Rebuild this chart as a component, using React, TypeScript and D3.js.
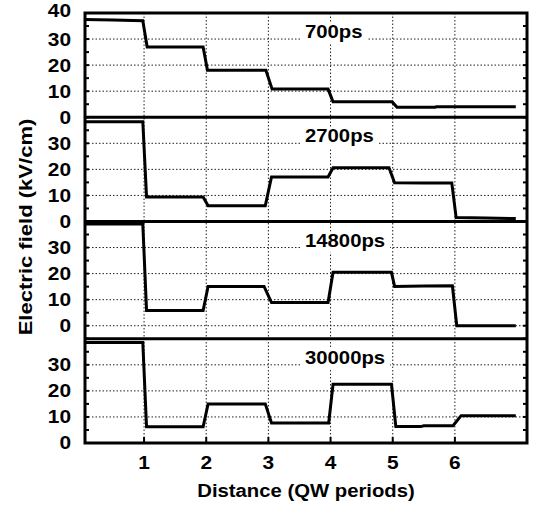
import React from "react";
import * as d3 from "d3";

// ---- data ----
const periodTicks = [1, 2, 3, 4, 5, 6];
const panelLabels = ["700ps", "2700ps", "14800ps", "30000ps"];

const dist700 = [0.05, 0.5, 0.98, 1.05, 1.95, 2.02, 2.96, 3.06, 3.96, 4.04, 4.99, 5.07, 5.68, 5.7, 6.98];
const field700 = [37.5, 37.3, 37.0, 27.0, 27.0, 18.0, 18.0, 10.8, 10.8, 5.9, 5.9, 3.8, 3.8, 4.0, 4.0];

const dist2700 = [0.05, 0.98, 1.04, 1.95, 2.03, 2.95, 3.05, 3.96, 4.04, 4.94, 5.03, 5.5, 5.95, 6.02, 6.5, 6.98];
const field2700 = [38.3, 38.3, 9.4, 9.4, 6.0, 6.0, 17.1, 17.1, 20.6, 20.6, 14.9, 14.8, 14.8, 1.5, 1.3, 1.1];

const dist14800 = [0.05, 0.98, 1.04, 1.95, 2.03, 2.93, 3.05, 3.96, 4.04, 4.98, 5.03, 5.5, 5.96, 6.03, 6.98];
const field14800 = [39.0, 39.0, 5.8, 5.8, 15.1, 15.1, 8.9, 8.9, 20.5, 20.5, 15.1, 15.2, 15.3, 0.0, 0.0];

const dist30000 = [0.05, 0.98, 1.04, 1.95, 2.03, 2.95, 3.05, 3.97, 4.04, 4.98, 5.05, 5.45, 5.5, 5.97, 6.1, 6.98];
const field30000 = [38.6, 38.6, 6.2, 6.2, 15.0, 15.0, 7.7, 7.7, 22.5, 22.5, 6.3, 6.3, 6.6, 6.6, 10.5, 10.5];

const panelDists = [dist700, dist2700, dist14800, dist30000];
const panelFields = [field700, field2700, field14800, field30000];
const panelDomains: [number, number][] = [[0, 40], [0, 40], [-5, 40], [0, 40]];
const panelTickLabels = [[0, 10, 20, 30, 40], [0, 10, 20, 30], [0, 10, 20, 30], [0, 10, 20, 30]];
const panelGrid = [[10, 20, 30], [10, 20, 30], [0, 10, 20, 30], [10, 20, 30]];

// ---- layout ----
const W = 534, H = 508;
const plotLeft = 85, plotRight = 527, plotTop = 13, plotBottom = 443;
const FONT = "'Liberation Sans', Arial, Helvetica, sans-serif";
const SX = 1.16;

const charW: Record<string, number> = { p: 0.611, s: 0.556 };
function textWidth(s: string, size: number) {
  let w = 0;
  for (const c of s) w += charW[c] ?? 0.556;
  return w * size * SX;
}

function T(props: {
  x: number; y: number; size: number; anchor?: string; rotate?: number; dy?: string; children: React.ReactNode;
}) {
  const { x, y, size, anchor = "start", rotate = 0, dy, children } = props;
  return (
    <text
      transform={`translate(${x},${y}) rotate(${rotate}) scale(${SX},1)`}
      textAnchor={anchor}
      dy={dy}
      fontFamily={FONT}
      fontWeight="bold"
      fontSize={size}
      fill="#000"
    >
      {children}
    </text>
  );
}

export default function App() {
  const x = d3.scaleLinear().domain([0.05, 7.16]).range([plotLeft, plotRight]);
  const totalUnits = d3.sum(panelDomains, (d) => d[1] - d[0]);
  const unit = (plotBottom - plotTop) / totalUnits;

  let cursor = plotTop;
  const panels = panelDomains.map((dom, i) => {
    const top = cursor;
    const bottom = top + (dom[1] - dom[0]) * unit;
    cursor = bottom;
    const y = d3.scaleLinear().domain(dom).range([bottom, top]);
    return { i, top, bottom, y, dom };
  });

  const dotted = { stroke: "#222", strokeWidth: 1, strokeDasharray: "1.5,2" };

  return (
    <svg width={W} height={H} style={{ display: "block", position: "absolute", left: 0, top: 0, background: "#fff" }}>
      <rect x={0} y={0} width={W} height={H} fill="#fff" />
      {periodTicks.map((t) => (
        <line key={"vg" + t} x1={x(t)} x2={x(t)} y1={plotTop} y2={plotBottom} {...dotted} />
      ))}
      {panels.map((p) => {
        const line = d3
          .line<number>()
          .x((_, k) => x(panelDists[p.i][k]))
          .y((v) => p.y(v));
        const minor = d3.range(Math.ceil(p.dom[0] / 5) * 5, p.dom[1] + 0.01, 5);
        const label = panelLabels[p.i];
        const lx = 305;
        const ly = p.y(30) - 1;
        const lw = textWidth(label, 17.5);
        return (
          <g key={"p" + p.i}>
            {panelGrid[p.i].map((g) => (
              <line key={"hg" + g} x1={plotLeft} x2={plotRight} y1={p.y(g)} y2={p.y(g)} {...dotted} />
            ))}
            {minor.map((m) => (
              <g key={"mt" + m}>
                <line x1={plotLeft} x2={plotLeft + 4} y1={p.y(m)} y2={p.y(m)} stroke="#000" strokeWidth={2} />
                <line x1={plotRight - 4} x2={plotRight} y1={p.y(m)} y2={p.y(m)} stroke="#000" strokeWidth={2} />
              </g>
            ))}
            <rect x={lx - 3} y={ly - 15} width={lw + 8} height={21} fill="#fff" />
            <T x={lx} y={ly} size={17.5}>{label}</T>
            <path d={line(panelFields[p.i]) || ""} fill="none" stroke="#000" strokeWidth={3} strokeLinejoin="miter" />
            {panelTickLabels[p.i].map((v) => (
              <T key={"yl" + v} x={71} y={p.y(v) - (v === 40 ? 2 : 0)} dy="0.36em" anchor="end" size={18}>
                {v}
              </T>
            ))}
            {p.i > 0 && (
              <line x1={plotLeft} x2={plotRight} y1={p.top} y2={p.top} stroke="#000" strokeWidth={3} />
            )}
          </g>
        );
      })}
      {periodTicks.map((t) => (
        <line key={"bt" + t} x1={x(t)} x2={x(t)} y1={plotBottom} y2={plotBottom - 6} stroke="#000" strokeWidth={2} />
      ))}
      <rect
        x={plotLeft}
        y={plotTop}
        width={plotRight - plotLeft}
        height={plotBottom - plotTop}
        fill="none"
        stroke="#000"
        strokeWidth={3}
      />
      {periodTicks.map((t) => (
        <T key={"xl" + t} x={x(t)} y={469} anchor="middle" size={18}>
          {t}
        </T>
      ))}
      <T x={(plotLeft + plotRight) / 2} y={497} anchor="middle" size={17.5}>
        Distance (QW periods)
      </T>
      <T x={32} y={227} anchor="middle" rotate={-90} size={19}>
        Electric field (kV/cm)
      </T>
    </svg>
  );
}
